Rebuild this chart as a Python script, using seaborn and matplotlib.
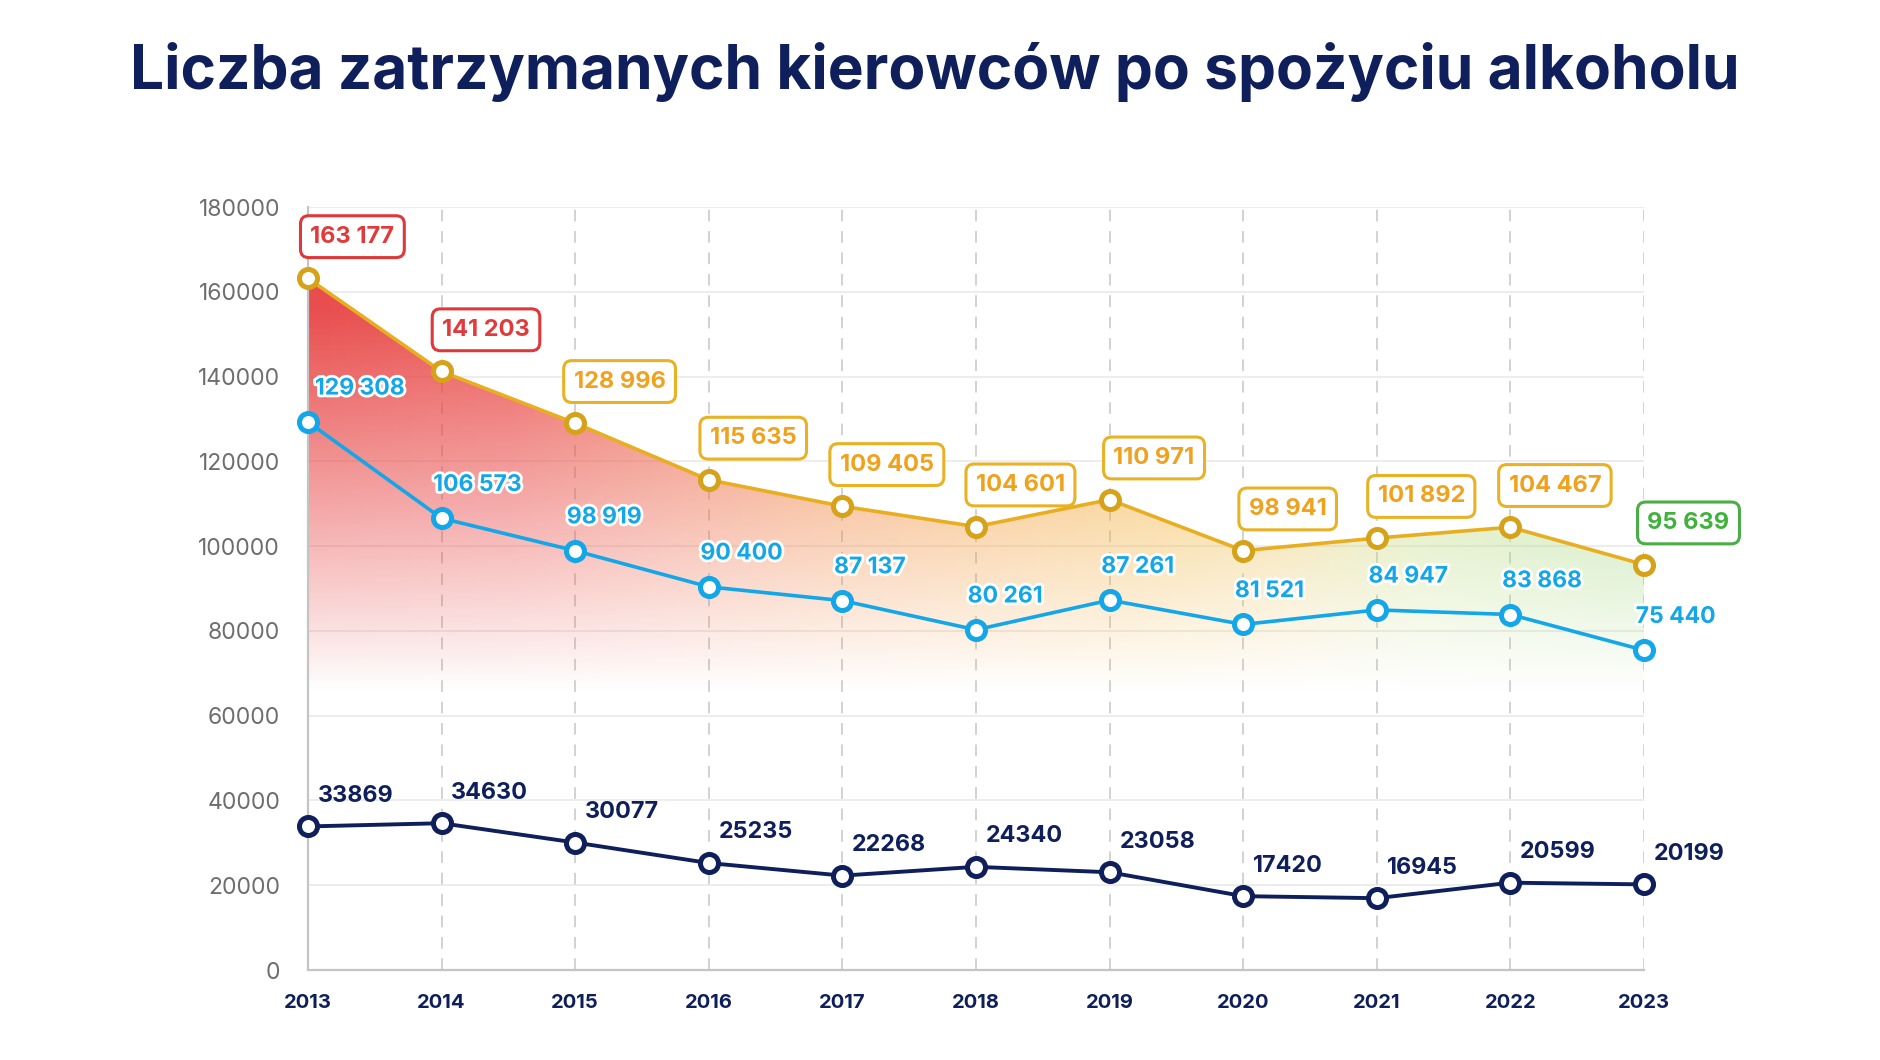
#!/usr/bin/env python3
"""Liczba zatrzymanych kierowcow po spozyciu alkoholu - line chart with gradient area."""

import matplotlib
matplotlib.use("Agg")
import matplotlib.pyplot as plt
import matplotlib.patheffects as pe
from matplotlib.colors import LinearSegmentedColormap
import numpy as np
import seaborn as sns

# data
years = [2013, 2014, 2015, 2016, 2017, 2018, 2019, 2020, 2021, 2022, 2023]
total = [163177, 141203, 128996, 115635, 109405, 104601, 110971, 98941, 101892, 104467, 95639]
over_limit = [129308, 106573, 98919, 90400, 87137, 80261, 87261, 81521, 84947, 83868, 75440]
under_limit = [33869, 34630, 30077, 25235, 22268, 24340, 23058, 17420, 16945, 20599, 20199]
total_box_tone = ["red", "red", "gold", "gold", "gold", "gold", "gold", "gold", "gold", "gold", "green"]
y_ticks = [0, 20000, 40000, 60000, 80000, 100000, 120000, 140000, 160000, 180000]

TITLE = "Liczba zatrzymanych kierowców po spożyciu alkoholu"

NAVY = "#0f1f5c"
BLUE = "#13a6e8"
GOLD_LINE = "#e8ae1f"
GOLD_EDGE = "#d6a21a"
BOX_COLORS = {
    "red": ("#e2393b", "#e0383a"),
    "gold": ("#f0a11e", "#e8b224"),
    "green": ("#3fb23c", "#4aad45"),
}


def fmt_space(v: int) -> str:
    return f"{v:,}".replace(",", " ")


def main() -> None:
    sns.set_theme(style="white")
    plt.rcParams["font.family"] = ["Inter", "DejaVu Sans"]

    fig = plt.figure(figsize=(18.8, 10.6), dpi=100)
    ax = fig.add_axes([0.1638, 0.0849, 0.8745 - 0.1638, 0.8047 - 0.0849])

    ax.set_xlim(2013, 2023)
    ax.set_ylim(0, 180000)

    # gradient area under the total line
    fill = ax.fill_between(years, total, 0, color="none", lw=0)
    w, h = 600, 400
    stops = [
        (0.00, "#e84646"),
        (0.15, "#ea5250"),
        (0.27, "#ee7058"),
        (0.38, "#f28c50"),
        (0.50, "#f4a248"),
        (0.64, "#f4b848"),
        (0.73, "#ecc866"),
        (0.83, "#c8e08c"),
        (1.00, "#a6d986"),
    ]
    cmap = LinearSegmentedColormap.from_list("areagrad", stops)
    xs = np.linspace(0, 1, w)
    ys = np.linspace(0, 180000, h)
    rgba = np.zeros((h, w, 4))
    rgba[:, :, :] = cmap(xs)[None, :, :]
    alpha = np.clip((ys - 66000) / (160000 - 66000), 0, 1) ** 0.95
    rgba[:, :, 3] = np.clip(alpha, 0, 0.96)[:, None]
    im = ax.imshow(rgba, extent=[2013, 2023, 0, 180000], origin="lower",
                   aspect="auto", zorder=1, interpolation="bilinear")
    im.set_clip_path(fill.get_paths()[0], transform=ax.transData)

    # grid
    for yt in y_ticks:
        ax.axhline(yt, color="#ececec", lw=1.3, zorder=0.5)
    for yr in years:
        ax.axvline(yr, color="#d2d2d2", lw=1.4, ls=(0, (6, 5)), zorder=0.6)

    # lines
    line_kw = dict(marker="o", markersize=13, markerfacecolor="white",
                   markeredgewidth=3.6, clip_on=False, zorder=5)
    sns.lineplot(x=years, y=total, ax=ax, color=GOLD_LINE, linewidth=2.6,
                 markeredgecolor=GOLD_EDGE, **line_kw)
    sns.lineplot(x=years, y=over_limit, ax=ax, color=BLUE, linewidth=2.6,
                 markeredgecolor=BLUE, **line_kw)
    sns.lineplot(x=years, y=under_limit, ax=ax, color=NAVY, linewidth=2.8,
                 markeredgecolor=NAVY, **line_kw)

    # labels: total (boxed)
    for yr, v, tone in zip(years, total, total_box_tone):
        tc, ec = BOX_COLORS[tone]
        ax.annotate(fmt_space(v), xy=(yr, v), xytext=(32, 30), textcoords="offset points",
                    ha="center", va="center", fontsize=17, fontweight="bold", color=tc,
                    bbox=dict(boxstyle="round,pad=0.42,rounding_size=0.35", fc="white",
                              ec=ec, lw=2.2),
                    annotation_clip=False, zorder=7)

    # labels: over limit
    for i, (yr, v) in enumerate(zip(years, over_limit)):
        dx = 5 if i == 0 else -6
        ax.annotate(fmt_space(v), xy=(yr, v), xytext=(dx, 24), textcoords="offset points",
                    ha="left", va="center", fontsize=16.5, fontweight="bold", color=BLUE,
                    path_effects=[pe.withStroke(linewidth=4, foreground="white")],
                    annotation_clip=False, zorder=6)

    # labels: under limit
    for yr, v in zip(years, under_limit):
        ax.annotate(str(v), xy=(yr, v), xytext=(7, 22), textcoords="offset points",
                    ha="left", va="center", fontsize=16.8, fontweight="bold", color=NAVY,
                    annotation_clip=False, zorder=6)

    # axes styling
    ax.set_xticks(years)
    ax.set_xticklabels([str(y) for y in years], fontsize=14.5, fontweight="bold", color=NAVY)
    ax.set_yticks(y_ticks)
    ax.set_yticklabels([str(y) for y in y_ticks], fontsize=16.5, color="#6e6e6e")
    ax.tick_params(axis="x", length=0, pad=17)
    ax.tick_params(axis="y", length=0, pad=20)
    for side in ("top", "right"):
        ax.spines[side].set_visible(False)
    ax.spines["left"].set_color("#c4c4c4")
    ax.spines["left"].set_linewidth(1.6)
    ax.spines["bottom"].set_color("#c4c4c4")
    ax.spines["bottom"].set_linewidth(1.6)
    ax.set_xlabel("")
    ax.set_ylabel("")
    ax.set_facecolor("white")

    fig.text(0.497, 0.932, TITLE, ha="center", va="center", fontsize=43.5,
             fontweight="bold", color=NAVY)

    fig.savefig("out.png", dpi=100, facecolor="white")
    plt.close(fig)


if __name__ == "__main__":
    main()
